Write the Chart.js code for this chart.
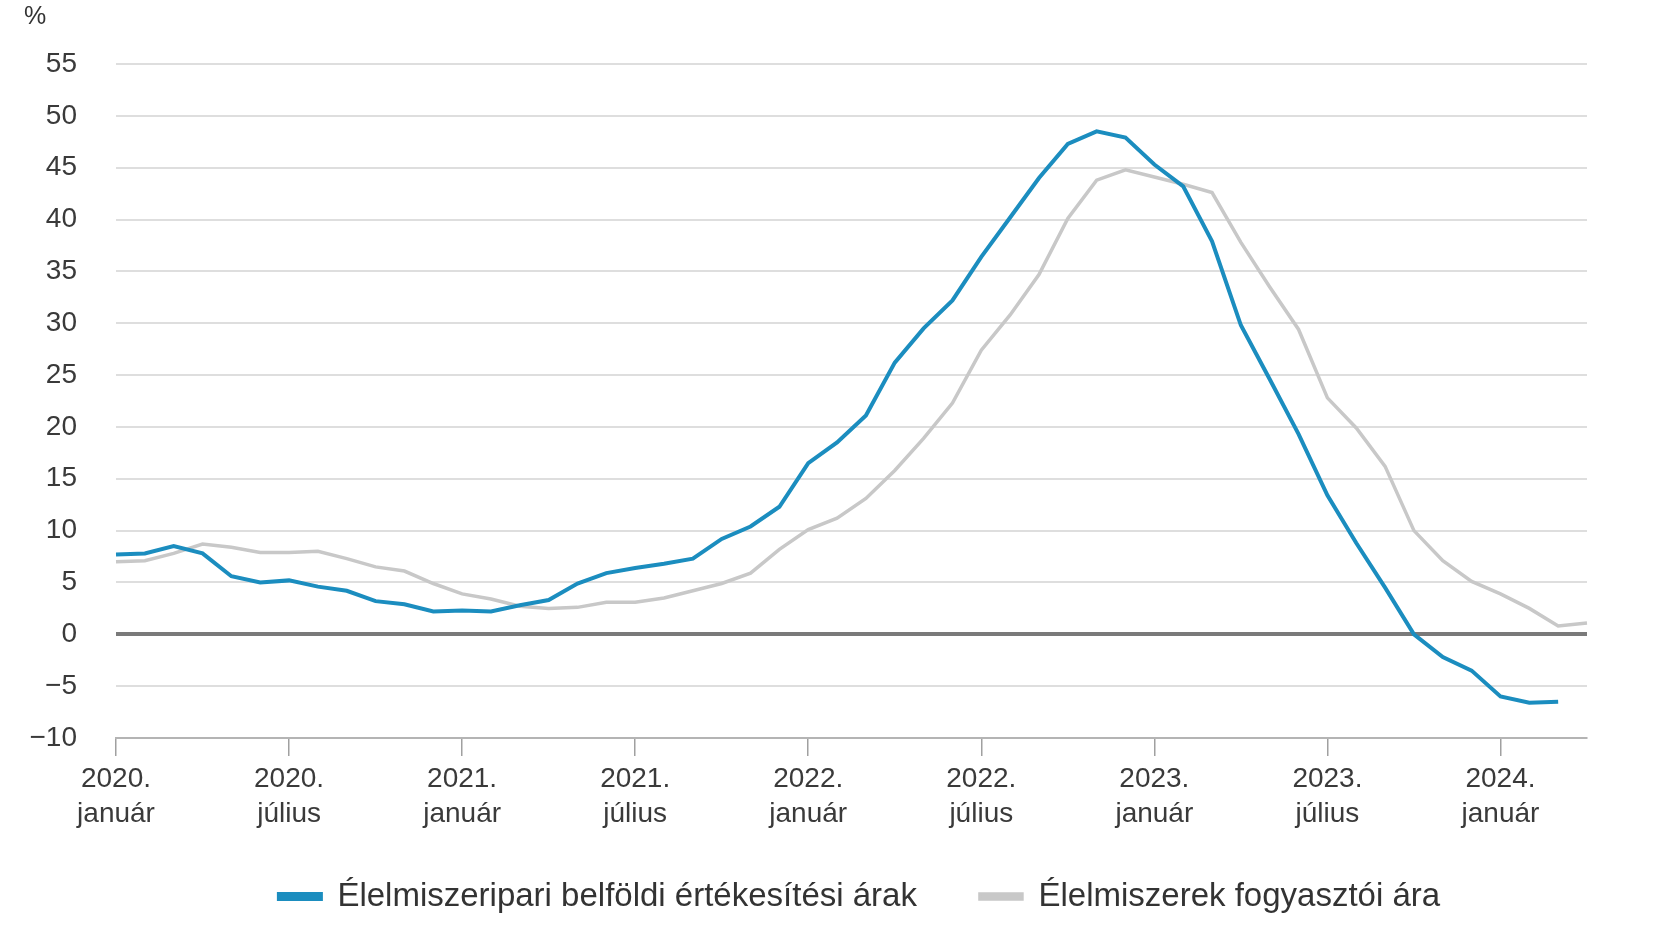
<!DOCTYPE html>
<html lang="hu">
<head>
    <meta charset="UTF-8">
    <title>Élelmiszerárak</title>
    <script src="https://cdn.jsdelivr.net/npm/chart.js"></script>
    <style>
        body { margin: 0; background: #fff; }
        #wrap { position: relative; width: 1657px; height: 927px; }
        #foodChart { display: block; }
        #unit { position: absolute; left: 24px; top: 3px; font: 25px 'Liberation Sans', Arial, sans-serif; color: #333; line-height: 25px; }
    </style>
</head>
<body>
<div id="wrap">
    <div id="unit">%</div>
    <canvas id="foodChart" width="1657" height="927"></canvas>
</div>

<script>
    // havi adatok, 2020. január - 2024. április
    const years = ['2020', '2021', '2022', '2023', '2024'];
    const monthNames = ['január', 'február', 'március', 'április', 'május', 'június',
        'július', 'augusztus', 'szeptember', 'október', 'november', 'december'];
    const monthCount = 52;

    const categories = [];
    for (let i = 0; i < monthCount; i++) {
        categories.push(years[Math.floor(i / 12)] + '. ' + monthNames[i % 12]);
    }

    // x tengely feliratai félévente
    const tickLabels = [
        ['2020.', 'január'], ['2020.', 'július'],
        ['2021.', 'január'], ['2021.', 'július'],
        ['2022.', 'január'], ['2022.', 'július'],
        ['2023.', 'január'], ['2023.', 'július'],
        ['2024.', 'január']
    ];

    const industryPrices = [
        7.7, 7.8, 8.5, 7.8, 5.6, 5.0, 5.2, 4.6, 4.2, 3.2, 2.9, 2.2,
        2.3, 2.2, 2.8, 3.3, 4.9, 5.9, 6.4, 6.8, 7.3, 9.2, 10.4, 12.3,
        16.5, 18.5, 21.1, 26.2, 29.5, 32.2, 36.4, 40.2, 44.0, 47.3, 48.5, 47.9,
        45.3, 43.2, 37.9, 29.8, 24.6, 19.3, 13.4, 8.8, 4.5, 0.0, -2.2, -3.5,
        -6.0, -6.6, -6.5
    ];

    const consumerPrices = [
        7.0, 7.1, 7.8, 8.7, 8.4, 7.9, 7.9, 8.0, 7.3, 6.5, 6.1, 4.9,
        3.9, 3.4, 2.7, 2.5, 2.6, 3.1, 3.1, 3.5, 4.2, 4.9, 5.9, 8.2,
        10.1, 11.2, 13.1, 15.8, 18.9, 22.3, 27.4, 30.8, 34.7, 40.1, 43.8, 44.8,
        44.1, 43.4, 42.6, 37.8, 33.5, 29.4, 22.8, 19.9, 16.2, 10.0, 7.1, 5.1,
        3.9, 2.5, 0.8, 1.1
    ];

    const yMin = -10;
    const yMax = 55;
    const yStep = 5;

    const fontFamily = "'Liberation Sans', Arial, sans-serif";

    // a jelmagyarázat: kisebb doboz, és eltolás, hogy a nagy elemköz ne tolja fel a diagramot
    const legendFix = {
        id: 'legendFix',
        afterInit: function (chart) {
            const legend = chart.legend;
            const fit = legend.fit;
            const draw = legend.draw;
            legend.fit = function () {
                fit.call(this);
                this.height = 89;
            };
            legend.draw = function () {
                const dx = 66, dy = -21;
                this.left += dx; this.right += dx;
                this.top += dy;
                draw.call(this);
                this.left -= dx; this.right -= dx;
                this.top -= dy;
            };
        }
    };

    const ctx = document.getElementById('foodChart').getContext('2d');
    new Chart(ctx, {
        type: 'line',
        data: {
            labels: categories,
            datasets: [{
                label: 'Élelmiszeripari belföldi értékesítési árak',
                data: industryPrices,
                borderColor: '#1b8dbf',
                backgroundColor: '#1b8dbf',
                borderWidth: 4,
                pointRadius: 0,
                tension: 0
            }, {
                label: 'Élelmiszerek fogyasztói ára',
                data: consumerPrices,
                borderColor: '#c8c8c8',
                backgroundColor: '#c8c8c8',
                borderWidth: 3.5,
                pointRadius: 0,
                tension: 0
            }]
        },
        plugins: [legendFix],
        options: {
            responsive: false,
            animation: false,
            devicePixelRatio: 1,
            layout: {
                padding: { left: 0, right: 70, top: 64, bottom: 0 }
            },
            scales: {
                x: {
                    offset: false,
                    grid: {
                        drawOnChartArea: false,
                        drawTicks: true,
                        tickLength: 18,
                        color: '#a0a0a0',
                        lineWidth: 1.5
                    },
                    border: { color: '#b4b4b4', width: 2 },
                    ticks: {
                        autoSkip: false,
                        maxRotation: 0,
                        padding: 6,
                        color: '#3a3a3a',
                        font: { family: fontFamily, size: 28, lineHeight: 1.25 },
                        callback: function (value, index) {
                            if (index % 6 !== 0) return null;
                            return tickLabels[index / 6];
                        }
                    },
                    afterFit: function (scale) {
                        scale.height = 100;
                    }
                },
                y: {
                    min: yMin,
                    max: yMax,
                    border: { display: false },
                    grid: {
                        drawTicks: false,
                        color: function (c) {
                            if (c.tick.value === 0) return '#7a7a7a';
                            if (c.tick.value === yMin) return 'rgba(0,0,0,0)';
                            return '#dedede';
                        },
                        lineWidth: function (c) {
                            return c.tick.value === 0 ? 4 : 2;
                        }
                    },
                    ticks: {
                        stepSize: yStep,
                        padding: 39,
                        color: '#3a3a3a',
                        font: { family: fontFamily, size: 28 },
                        callback: function (v) {
                            return v < 0 ? '\u2212' + Math.abs(v) : '' + v;
                        }
                    },
                    afterFit: function (scale) {
                        scale.width = 116;
                    }
                }
            },
            plugins: {
                tooltip: { enabled: false },
                legend: {
                    position: 'bottom',
                    labels: {
                        boxWidth: 42,
                        boxHeight: 5,
                        padding: 63,
                        color: '#333',
                        font: { family: fontFamily, size: 33 }
                    }
                }
            }
        }
    });
</script>
</body>
</html>
